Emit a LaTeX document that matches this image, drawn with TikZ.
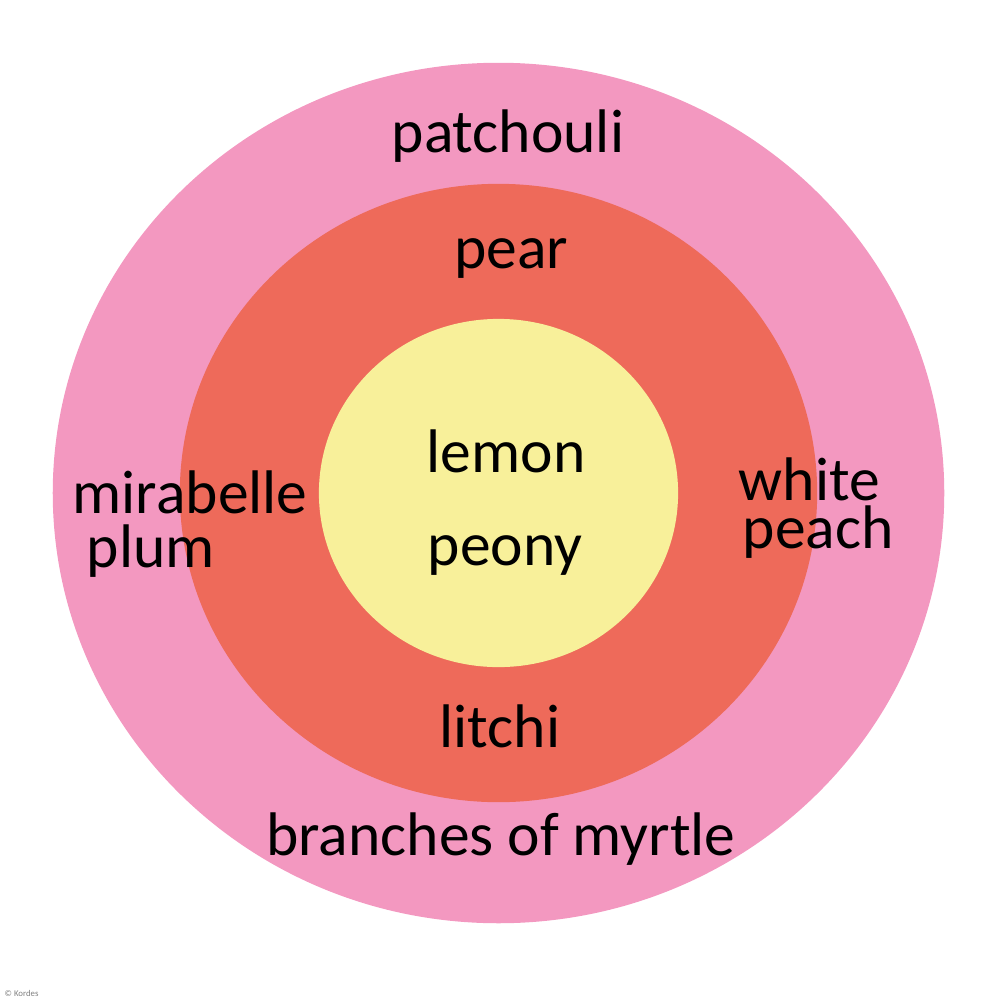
\documentclass[tikz,border=0pt]{standalone}
\usepackage{fontspec}
\setmainfont{Carlito}
\definecolor{patchpink}{HTML}{F398C0}
\definecolor{pearred}{HTML}{EE6A5A}
\definecolor{lemonyellow}{HTML}{F8F09A}
\tikzset{
  note/.style={font=\fontsize{17.5}{20}\selectfont, inner sep=0pt, anchor=base},
  noteleft/.style={note, anchor=base west}
}
\begin{document}
\begin{tikzpicture}[x=0.01cm, y=-0.01cm]
      \useasboundingbox (0, 0) rectangle (1000, 1000);
      % rings, outside in
      \foreach \col/\rx/\ry in {patchpink/4.455/4.30, pearred/3.185/3.09, lemonyellow/1.795/1.74} {
        \fill [\col] (498.5, 493) ellipse [x radius=\rx cm, y radius=\ry cm];
      }

      \node [note] (patchouli) at (508, 152) {patchouli};
      \node [note] (pear) at (511, 268) {pear};
      \node [note] (lemon) at (506, 472) {lemon};
      \node [note] (peony) at (505, 565) {peony};
      \node [noteleft] (mirabelle) at (72, 513) {mirabelle};
      \node [noteleft] (plum) at (86, 567) {plum};
      \node [noteleft] (white) at (738, 500) {white};
      \node [noteleft] (peach) at (742, 548) {peach};
      \node [note] (litchi) at (500, 747) {litchi};
      \node [note] (myrtle) at (501, 855) {branches of myrtle};

      \node [anchor=base west, inner sep=0pt, gray, font=\fontsize{2.5}{3}\selectfont] (credit) at (4, 996) {© Kordes};
    \end{tikzpicture}
\end{document}
